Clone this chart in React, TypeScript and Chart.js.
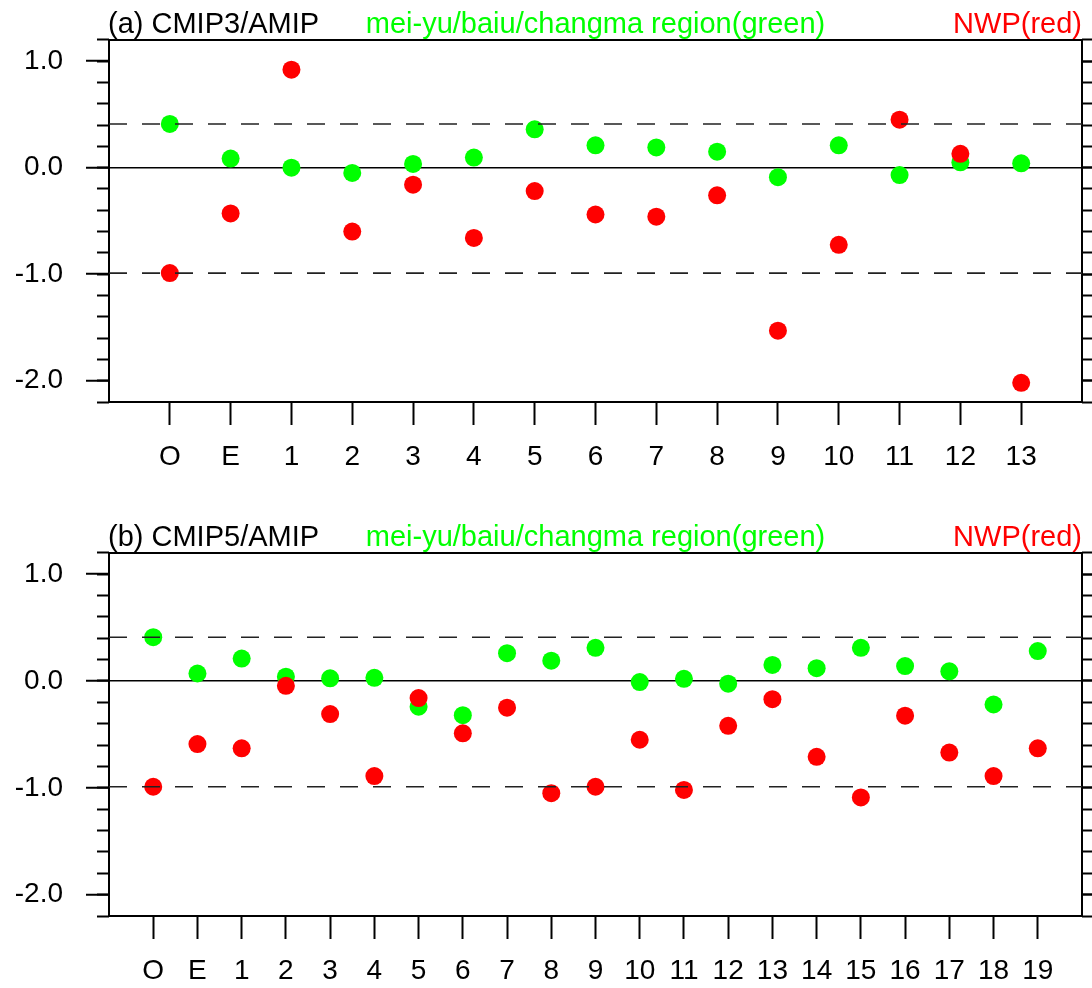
import React, { useEffect, useRef } from 'react';
import { Chart, registerables } from 'chart.js';

Chart.register(...registerables);

// ---------- data ----------
const catsA = ['O', 'E', '1', '2', '3', '4', '5', '6', '7', '8', '9', '10', '11', '12', '13'];
const greenA = [0.41, 0.085, 0.0, -0.05, 0.035, 0.095, 0.36, 0.21, 0.19, 0.15, -0.09, 0.21, -0.07, 0.05, 0.04];
const redA = [-0.99, -0.43, 0.92, -0.6, -0.16, -0.66, -0.22, -0.44, -0.46, -0.26, -1.53, -0.725, 0.45, 0.13, -2.02];

const catsB = ['O', 'E', '1', '2', '3', '4', '5', '6', '7', '8', '9', '10', '11', '12', '13', '14', '15', '16', '17', '18', '19'];
const greenB = [0.41, 0.07, 0.21, 0.04, 0.025, 0.03, -0.24, -0.32, 0.26, 0.19, 0.31, -0.01, 0.02, -0.025, 0.15, 0.12, 0.31, 0.14, 0.09, -0.22, 0.28];
const redB = [-0.99, -0.59, -0.63, -0.045, -0.31, -0.89, -0.16, -0.49, -0.25, -1.05, -0.99, -0.55, -1.02, -0.42, -0.17, -0.71, -1.09, -0.325, -0.67, -0.89, -0.63];

const yMajorTicks = [-2, -1, 0, 1];
const yMinorTicks = [-2.2, -2.0, -1.8, -1.6, -1.4, -1.2, -1.0, -0.8, -0.6, -0.4, -0.2, 0, 0.2, 0.4, 0.6, 0.8, 1.0, 1.2];
const yMin = -2.2;
const yMax = 1.2;

const titleA = '(a) CMIP3/AMIP';
const titleB = '(b) CMIP5/AMIP';
const regionLabel = 'mei-yu/baiu/changma region(green)';
const nwpLabel = 'NWP(red)';

const FONT = "'Liberation Sans', Arial, Helvetica, sans-serif";
const GREEN = '#00ff00';
const RED = '#ff0000';

type PanelProps = {
  cats: string[];
  green: number[];
  red: number[];
  title: string;
  height: number;
  bottomH: number;
  top: number;
};

function Panel({ cats, green, red, title, height, bottomH, top }: PanelProps) {
  const ref = useRef<HTMLCanvasElement | null>(null);

  useEffect(() => {
    if (!ref.current) return;
    const n = cats.length;
    const pts = (vals: number[]) => vals.map((v, i) => ({ x: i, y: v }));
    const hline = (v: number) => [{ x: -1, y: v }, { x: n, y: v }];

    const titlePlugin = {
      id: 'panelTitles',
      afterDraw(chart: any) {
        const { ctx, chartArea } = chart;
        const y = chartArea.top - 7;
        ctx.save();
        ctx.font = `29px ${FONT}`;
        ctx.textBaseline = 'alphabetic';
        ctx.fillStyle = '#000';
        ctx.textAlign = 'left';
        ctx.fillText(title, chartArea.left - 1, y);
        ctx.fillStyle = GREEN;
        ctx.textAlign = 'center';
        ctx.fillText(regionLabel, (chartArea.left + chartArea.right) / 2, y);
        ctx.fillStyle = RED;
        ctx.textAlign = 'right';
        ctx.fillText(nwpLabel, chartArea.right, y);
        ctx.restore();
      },
    };

    const setTicks = (vals: number[]) => (scale: any) => {
      scale.ticks = vals.map((v) => ({ value: v }));
    };

    const chart = new Chart(ref.current, {
      type: 'scatter',
      data: {
        datasets: [
          {
            data: hline(green[0]),
            showLine: true,
            borderColor: '#222',
            borderWidth: 1.6,
            borderDash: [18, 15],
            pointRadius: 0,
            order: 0,
          },
          {
            data: hline(red[0]),
            showLine: true,
            borderColor: '#222',
            borderWidth: 1.6,
            borderDash: [18, 15],
            pointRadius: 0,
            order: 0,
          },
          {
            data: pts(red),
            backgroundColor: RED,
            borderWidth: 0,
            pointRadius: 9,
            order: 1,
          },
          {
            data: pts(green),
            backgroundColor: GREEN,
            borderWidth: 0,
            pointRadius: 9,
            order: 2,
          },
        ] as any,
      },
      options: {
        animation: false,
        responsive: false,
        maintainAspectRatio: false,
        layout: { padding: 0, autoPadding: false } as any,
        plugins: {
          legend: { display: false },
          tooltip: { enabled: false },
          title: { display: false },
        },
        scales: {
          x: {
            type: 'linear',
            position: 'bottom',
            min: -1,
            max: n,
            afterBuildTicks: setTicks(cats.map((_, i) => i)),
            afterFit: (s: any) => {
              s.height = bottomH;
            },
            ticks: {
              autoSkip: false,
              maxRotation: 0,
              padding: 15,
              color: '#000',
              font: { family: FONT, size: 28 },
              callback: (v: any) => cats[Math.round(Number(v))] ?? '',
            },
            grid: { drawOnChartArea: false, tickLength: 23, tickWidth: 2, tickColor: '#000' },
            border: { display: true, color: '#000', width: 2 },
          },
          xTop: {
            type: 'linear',
            position: 'top',
            min: -1,
            max: n,
            afterFit: (s: any) => {
              s.height = 38;
            },
            ticks: { display: false },
            grid: { drawOnChartArea: false, drawTicks: false },
            border: { display: true, color: '#000', width: 2 },
          },
          y: {
            type: 'linear',
            position: 'left',
            weight: 1,
            min: yMin,
            max: yMax,
            afterBuildTicks: setTicks(yMajorTicks),
            afterFit: (s: any) => {
              s.width = 109;
            },
            ticks: {
              padding: 23,
              color: '#000',
              font: { family: FONT, size: 28 },
              callback: (v: any) => Number(v).toFixed(1),
            },
            grid: {
              drawOnChartArea: true,
              color: (c: any) => (c.tick && Math.abs(c.tick.value) < 1e-9 ? '#000' : 'rgba(0,0,0,0)'),
              lineWidth: 1.5,
              tickLength: 23,
              tickWidth: 2,
              tickColor: '#000',
            },
            border: { display: true, color: '#000', width: 2 },
          },
          yMinor: {
            type: 'linear',
            position: 'left',
            weight: 0,
            min: yMin,
            max: yMax,
            afterBuildTicks: setTicks(yMinorTicks),
            afterFit: (s: any) => {
              s.width = 0;
            },
            ticks: { display: false },
            grid: { drawOnChartArea: false, tickLength: 12, tickWidth: 2, tickColor: '#000' },
            border: { display: false },
          },
          yR: {
            type: 'linear',
            position: 'right',
            weight: 1,
            min: yMin,
            max: yMax,
            afterBuildTicks: setTicks(yMajorTicks),
            afterFit: (s: any) => {
              s.width = 10;
            },
            ticks: { display: false },
            grid: { drawOnChartArea: false, tickLength: 23, tickWidth: 2, tickColor: '#000' },
            border: { display: true, color: '#000', width: 2 },
          },
          yRMinor: {
            type: 'linear',
            position: 'right',
            weight: 0,
            min: yMin,
            max: yMax,
            afterBuildTicks: setTicks(yMinorTicks),
            afterFit: (s: any) => {
              s.width = 0;
            },
            ticks: { display: false },
            grid: { drawOnChartArea: false, tickLength: 12, tickWidth: 2, tickColor: '#000' },
            border: { display: false },
          },
        } as any,
      },
      plugins: [titlePlugin],
    });

    return () => chart.destroy();
  }, [cats, green, red, title, height, bottomH]);

  return (
    <canvas
      ref={ref}
      width={1092}
      height={height}
      style={{ position: 'absolute', left: 0, top, width: 1092, height, display: 'block' }}
    />
  );
}

export default function App() {
  return (
    <div
      style={{
        position: 'absolute',
        left: 0,
        top: 0,
        width: 1092,
        height: 988,
        overflow: 'hidden',
        background: '#fff',
      }}
    >
      <Panel cats={catsA} green={greenA} red={redA} title={titleA} height={513} bottomH={111} top={0} />
      <Panel cats={catsB} green={greenB} red={redB} title={titleB} height={475} bottomH={72} top={513} />
    </div>
  );
}
